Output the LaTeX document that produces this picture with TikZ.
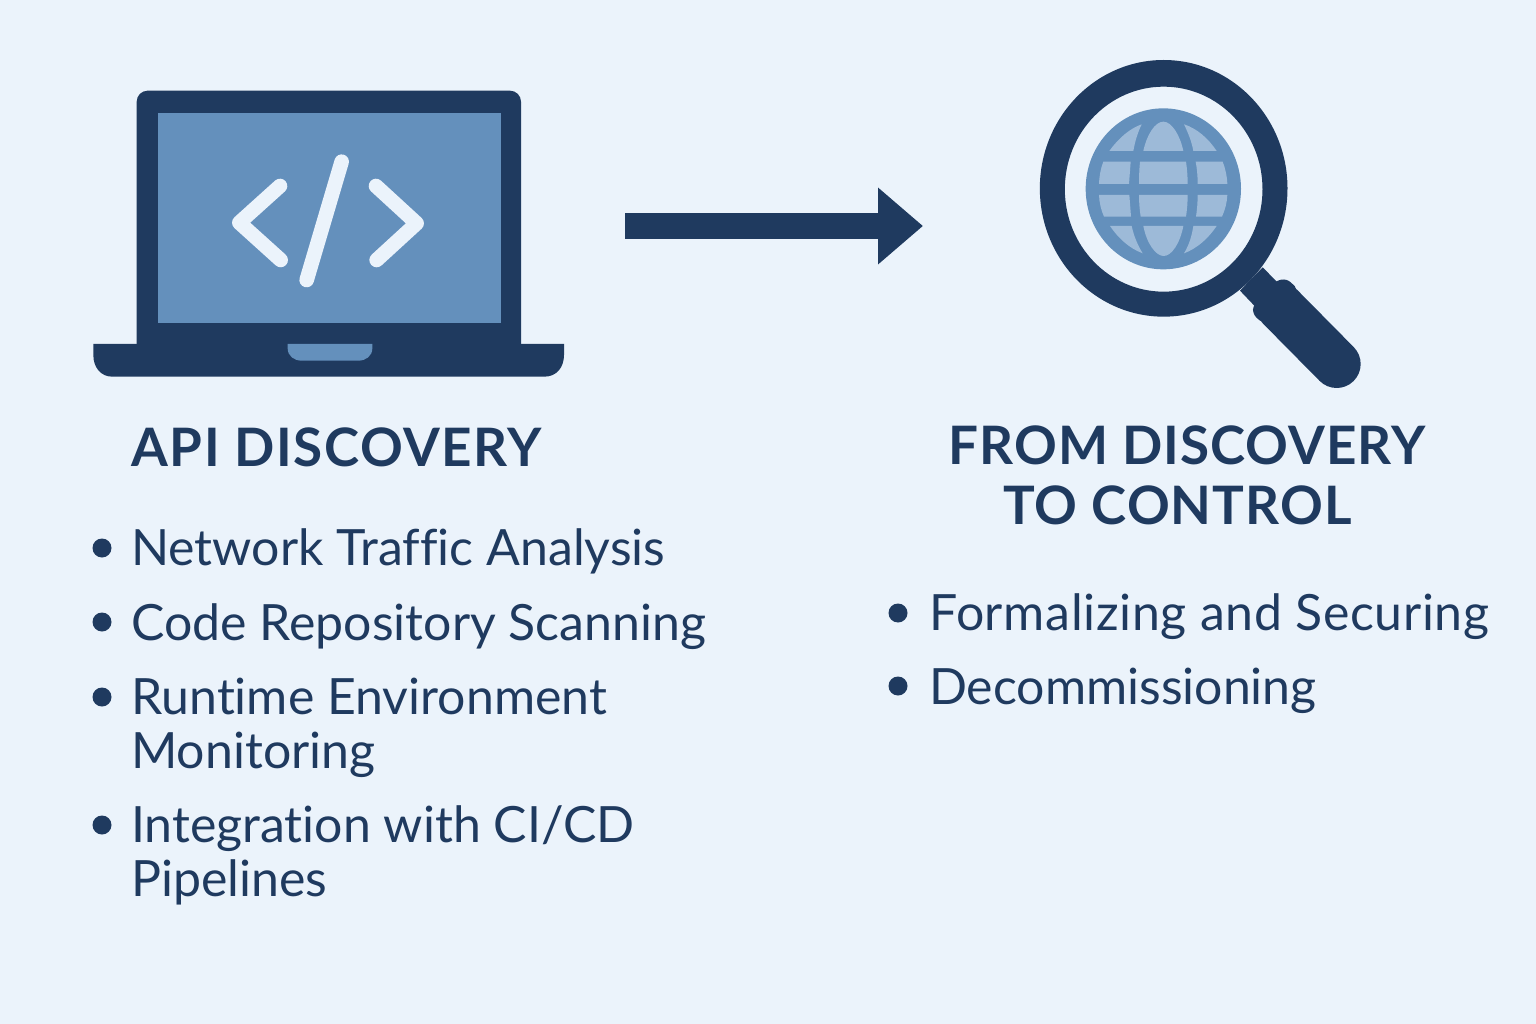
\documentclass[tikz,border=0pt]{standalone}
\usepackage{fontspec}
\setmainfont{Lato}[Ligatures={NoCommon,NoRequired,NoContextual}]
\newfontfamily\headfont{Lato}[LetterSpace=2,Ligatures={NoCommon,NoRequired,NoContextual}]
\usetikzlibrary{arrows.meta}
\definecolor{bgc}{HTML}{EBF3FB}
\definecolor{navy}{HTML}{1F3A5F}
\definecolor{midblue}{HTML}{6490BC}
\definecolor{lightblue}{HTML}{9DBAD8}
\tikzset{
  headtxt/.style={text=navy,inner sep=0pt,font=\headfont\fontsize{53}{60}\selectfont\bfseries},
  bodytxt/.style={text=navy,inner sep=0pt,anchor=base west,align=left,font=\fontsize{50}{54}\selectfont},
  bulletdot/.style={circle,fill=navy,inner sep=0pt,minimum size=19pt},
  zoomA/.style={shift={(80pt,-80pt)},x=0.33333pt,y=-0.33333pt},
  zoomB/.style={shift={(1020pt,-40pt)},x=0.33333pt,y=-0.33333pt},
  codemark/.style={draw=bgc,line width=14.6pt,line cap=round,line join=round},
  flowarrow/.style={draw=navy,line width=26pt,-{Triangle[length=45pt,width=74pt]}}
}
\begin{document}
\begin{tikzpicture}[x=1pt,y=-1pt]
\useasboundingbox (0,0) rectangle (1536,1024);
\fill[bgc] (0,0) rectangle (1536,1024);

% laptop
\begin{scope}[zoomA]
\fill[navy,rounded corners=11pt] (170,830) -- (170,32) -- (1323,32) -- (1323,830) -- cycle;
\fill[navy] (40,792) -- (1452,792) -- (1452,825) .. controls (1452,862) and (1430,890) .. (1393,890) -- (97,890) .. controls (62,890) and (40,862) .. (40,825) -- cycle;
\fill[midblue] (234,98) rectangle (1262,728);
\fill[midblue] (623,792) -- (877,792) -- (877,805) .. controls (877,828) and (858,842) .. (835,842) -- (665,842) .. controls (642,842) and (623,828) .. (623,805) -- cycle;
\draw[codemark] (600,318) -- (478,428) -- (602,540);
\draw[codemark] (888,318) -- (1010,430) -- (890,540);
\draw[codemark] (785,245) -- (680,600);
\end{scope}

% arrow
\coordinate (arrowfrom) at (625,226);
\coordinate (arrowto) at (923,226);
\draw[flowarrow] (arrowfrom) -- (arrowto);

% magnifier
\begin{scope}[zoomB]
\fill[navy,even odd rule] (431,445) ellipse[x radius=371.5,y radius=385] (431,447.5) ellipse[x radius=296.5,y radius=307.5];
\fill[navy] (728,682) -- (790,745) -- (720,815) -- (660,752) -- cycle;
\draw[navy,line width=48pt,line cap=round] (950,972) -- (780,800);
\fill[navy,rounded corners=5pt] (768,722) -- (800,716) -- (835,748) -- (729,851) -- (698,822) -- (700,795) -- cycle;
\fill[midblue] (430,446.5) ellipse[x radius=233,y radius=241.5];
\begin{scope}[lightblue]
\fill (268,333) .. controls (295,295) and (330,265) .. (365,253) .. controls (352,280) and (345,305) .. (340,333) -- cycle;
\fill (370,333) .. controls (380,285) and (405,245) .. (430,245) .. controls (455,245) and (480,285) .. (490,333) -- cycle;
\fill (590,333) .. controls (565,295) and (530,265) .. (492,253) .. controls (505,280) and (515,305) .. (520,333) -- cycle;
\fill (250,365) -- (332,365) -- (327,432) -- (237,432) .. controls (238,408) and (242,385) .. (250,365) -- cycle;
\fill (360,365) -- (498,365) .. controls (501,385) and (503,408) .. (503,432) -- (357,432) .. controls (357,408) and (358,385) .. (360,365) -- cycle;
\fill (527,365) -- (608,365) .. controls (616,385) and (621,408) .. (622,432) -- (533,432) .. controls (533,408) and (531,385) .. (527,365) -- cycle;
\fill (237,465) -- (328,465) -- (333,530) -- (252,530) .. controls (243,510) and (238,488) .. (237,465) -- cycle;
\fill (357,465) -- (503,465) .. controls (503,488) and (501,510) .. (498,530) -- (362,530) .. controls (359,510) and (357,488) .. (357,465) -- cycle;
\fill (533,465) -- (622,465) .. controls (621,488) and (615,510) .. (606,530) -- (528,530) .. controls (531,510) and (533,488) .. (533,465) -- cycle;
\fill (270,558) -- (335,558) .. controls (342,590) and (353,615) .. (368,640) .. controls (328,625) and (295,595) .. (270,558) -- cycle;
\fill (370,558) -- (490,558) .. controls (480,610) and (455,648) .. (431,648) .. controls (407,648) and (380,610) .. (370,558) -- cycle;
\fill (520,558) -- (590,558) .. controls (565,595) and (532,625) .. (492,640) .. controls (507,615) and (515,590) .. (520,558) -- cycle;
\end{scope}
\end{scope}

% headings
\node[headtxt,anchor=base west] (h1) at (131,466) {\addfontfeature{LetterSpace=3}API DISCOVERY};
\node[headtxt,anchor=base,align=center] (h2) at (1187,524) {FROM DISCOVERY\\TO CONTROL\hspace*{19pt}};

% left list
\node[bulletdot] (b1) at (102,548) {};
\node[bodytxt] (t1) at (131,565) {Network Traffic Analysis};
\node[bulletdot] (b2) at (102,622) {};
\node[bodytxt] (t2) at (131,640) {Code Repository Scanning};
\node[bulletdot] (b3) at (102,697) {};
\node[bodytxt] (t3) at (131,768) {Runtime Environment\\Monitoring};
\node[bulletdot] (b4) at (102,825) {};
\node[bodytxt] (t4) at (131,896) {Integration with CI/CD\\Pipelines};

% right list
\node[bulletdot] (b5) at (898,613) {};
\node[bodytxt] (t5) at (929,630) {\addfontfeature{LetterSpace=1.3}Formalizing and Securing};
\node[bulletdot] (b6) at (898,686) {};
\node[bodytxt] (t6) at (929,704) {Decommissioning};
\end{tikzpicture}
\end{document}
